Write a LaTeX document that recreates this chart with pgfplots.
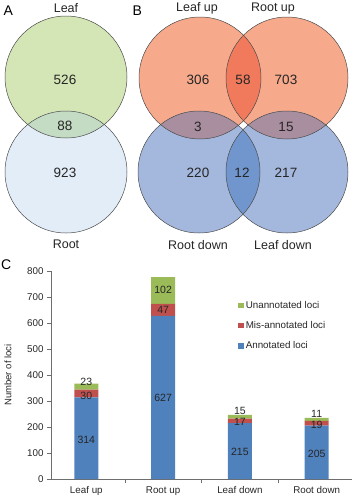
\documentclass[border=0pt]{standalone}
\usepackage{pgfplots}
\pgfplotsset{compat=1.18}
\usepackage{fontspec}
\setmainfont{Liberation Sans}
\definecolor{leafG}{HTML}{D4E6B5}
\definecolor{rootB}{HTML}{E3EDF8}
\definecolor{lrI}{HTML}{C4DBC4}
\definecolor{orgL}{HTML}{F7A98B}
\definecolor{orgD}{HTML}{F27A5C}
\definecolor{bluL}{HTML}{A4B8DE}
\definecolor{bluD}{HTML}{7096CD}
\definecolor{mauve}{HTML}{A98E9F}
\definecolor{cBlue}{HTML}{4F81BD}
\definecolor{cRed}{HTML}{C0504D}
\definecolor{cGreen}{HTML}{9BBB59}
\definecolor{axgray}{HTML}{6E6E6E}
\tikzset{bn/.style={font=\fontsize{10.5pt}{12pt}\selectfont, text=black!85}}
\tikzset{vn/.style={font=\fontsize{13.5pt}{15pt}\selectfont, text=black!85}}
\tikzset{vl/.style={font=\fontsize{12.5pt}{14pt}\selectfont, text=black!85}}
\begin{document}
\begin{tikzpicture}
\path[use as bounding box] (0,0) rectangle (353pt,-500pt);
\begin{axis}[at={(0pt,0pt)}, anchor=north west, scale only axis,
  width=353pt, height=250pt, xmin=0, xmax=353, ymin=0, ymax=250,
  y dir=reverse, hide axis, clip=false]
  % Panel A
  \fill[leafG] (axis cs:66,77) circle[radius=61];
  \fill[rootB] (axis cs:66,172) circle[radius=61];
  \begin{scope}
    \clip (axis cs:66,77) circle[radius=61];
    \fill[lrI] (axis cs:66,172) circle[radius=61];
  \end{scope}
  \draw[black!70, line width=0.5pt] (axis cs:66,77) circle[radius=61];
  \draw[black!70, line width=0.5pt] (axis cs:66,172) circle[radius=61];
  % Panel B
  \fill[orgL] (axis cs:200,78) circle[radius=61];
  \fill[orgL] (axis cs:287,78) circle[radius=61];
  \fill[bluL] (axis cs:199,172) circle[radius=61];
  \fill[bluL] (axis cs:287,172) circle[radius=61];
  \begin{scope}
    \clip (axis cs:200,78) circle[radius=61];
    \fill[orgD] (axis cs:287,78) circle[radius=61];
  \end{scope}
  \begin{scope}
    \clip (axis cs:199,172) circle[radius=61];
    \fill[bluD] (axis cs:287,172) circle[radius=61];
  \end{scope}
  \begin{scope}
    \clip (axis cs:200,78) circle[radius=61];
    \fill[mauve] (axis cs:199,172) circle[radius=61];
  \end{scope}
  \begin{scope}
    \clip (axis cs:287,78) circle[radius=61];
    \fill[mauve] (axis cs:287,172) circle[radius=61];
  \end{scope}
  \draw[black!70, line width=0.5pt] (axis cs:200,78) circle[radius=61];
  \draw[black!70, line width=0.5pt] (axis cs:287,78) circle[radius=61];
  \draw[black!70, line width=0.5pt] (axis cs:199,172) circle[radius=61];
  \draw[black!70, line width=0.5pt] (axis cs:287,172) circle[radius=61];
  % texts
  \node[font=\fontsize{14pt}{16pt}\selectfont, anchor=west] at (axis cs:0,11) {A};
  \node[font=\fontsize{14pt}{16pt}\selectfont, anchor=west] at (axis cs:129,11) {B};
  \node[vl] at (axis cs:66,8) {Leaf};
  \node[vl] at (axis cs:66,244) {Root};
  \node[vn] at (axis cs:65,80) {526};
  \node[vn] at (axis cs:65,126) {88};
  \node[vn] at (axis cs:65,173) {923};
  \node[vl] at (axis cs:197,8) {Leaf up};
  \node[vl] at (axis cs:273,8) {Root up};
  \node[vl] at (axis cs:198,245) {Root down};
  \node[vl] at (axis cs:283,245) {Leaf down};
  \node[vn] at (axis cs:198,80) {306};
  \node[vn] at (axis cs:243,80) {58};
  \node[vn] at (axis cs:286,80) {703};
  \node[vn] at (axis cs:198,127) {3};
  \node[vn] at (axis cs:286,127) {15};
  \node[vn] at (axis cs:198,173) {220};
  \node[vn] at (axis cs:242,173) {12};
  \node[vn] at (axis cs:286,173) {217};
\end{axis}
\node[font=\fontsize{14pt}{16pt}\selectfont, anchor=west, inner sep=0pt] at (1pt,-265pt) {C};
\begin{axis}[at={(51pt,-479pt)}, anchor=south west, scale only axis,
  width=301pt, height=208pt,
  ybar stacked, bar width=24pt,
  xmin=-0.46, xmax=3.46, ymin=0, ymax=800,
  ytick={0,100,...,800},
  xtick={0,1,2,3},
  xticklabels={Leaf up, Root up, Leaf down, Root down},
  axis x line*=bottom, axis y line*=left,
  axis line style={axgray},
  tick align=outside, major tick length=4pt,
  ytick style={axgray},
  xtick style={draw=none},
  extra x ticks={0.5,1.5,2.5},
  extra x tick labels={},
  extra x tick style={xtick style={draw=axgray}},
  ticklabel style={font=\fontsize{9.8pt}{11pt}\selectfont, text=black!85},
  /pgf/number format/assume math mode=true,
  ylabel={Number of loci},
  ylabel style={at={(axis description cs:-0.143,0.5)}, anchor=center, font=\fontsize{9.5pt}{11pt}\selectfont, text=black!85},
  legend style={at={(axis description cs:0.612,0.875)}, anchor=north west,
    draw=none, fill=none, font=\fontsize{9.8pt}{11pt}\selectfont, text=black!85, row sep=7.6pt},
  legend cell align=left,
  reverse legend,
  legend image code/.code={\fill[#1, draw=none] (0pt,-2.7pt) rectangle (5.4pt,2.7pt);},
  clip=false,
  after end axis/.code={
    \node[bn] at (axis cs:0,150) {314};
    \node[bn] at (axis cs:0,320) {30};
    \node[bn] at (axis cs:0,373) {23};
    \node[bn] at (axis cs:1,311) {627};
    \node[bn] at (axis cs:1,650) {47};
    \node[bn] at (axis cs:1,727) {102};
    \node[bn] at (axis cs:2,104) {215};
    \node[bn] at (axis cs:2,219) {17};
    \node[bn] at (axis cs:2,261) {15};
    \node[bn] at (axis cs:3,96) {205};
    \node[bn] at (axis cs:3,208) {19};
    \node[bn] at (axis cs:3,250) {11};
  },
]
\addplot[fill=cBlue, draw=none] coordinates {(0,314) (1,627) (2,215) (3,205)};
\addplot[fill=cRed, draw=none] coordinates {(0,30) (1,47) (2,17) (3,19)};
\addplot[fill=cGreen, draw=none] coordinates {(0,23) (1,102) (2,15) (3,11)};
\legend{Annotated loci, Mis-annotated loci, Unannotated loci}
\end{axis}
\end{tikzpicture}
\end{document}
